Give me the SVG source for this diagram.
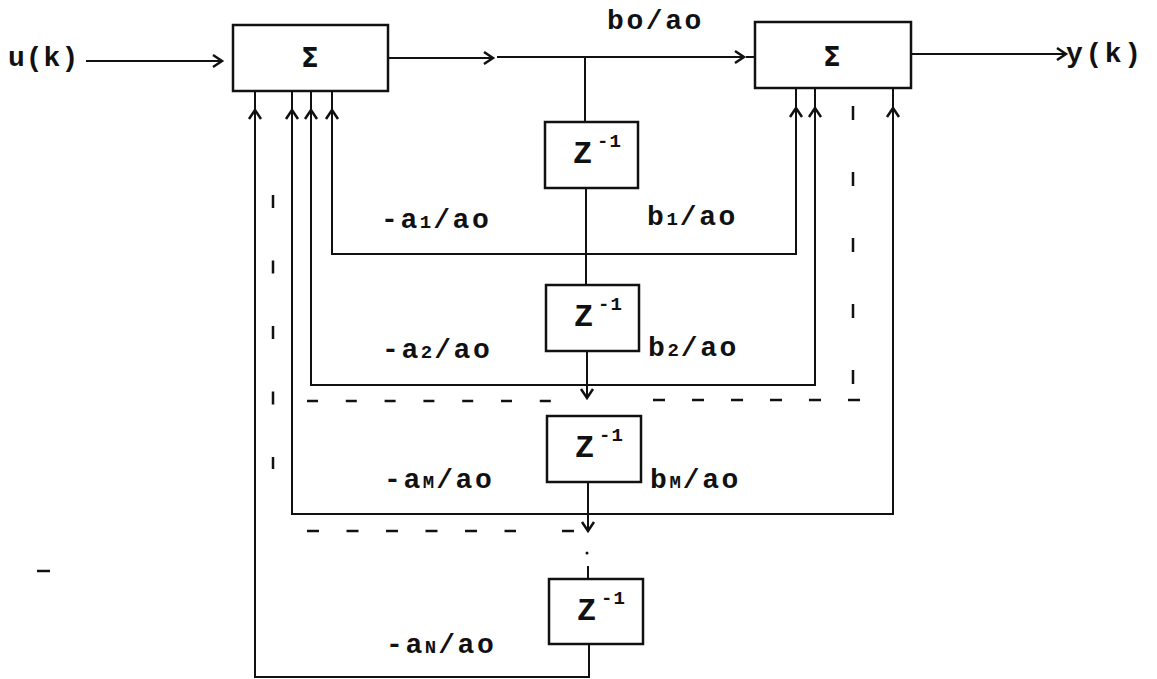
<svg xmlns="http://www.w3.org/2000/svg" width="1157" height="679" viewBox="0 0 1157 679">
<defs>
<style>
.box{fill:none;stroke:#111;stroke-width:2.5}
.ln{fill:none;stroke:#111;stroke-width:2}
.ds{fill:none;stroke:#111;stroke-width:2.5}
.lbl{font-family:"Liberation Mono","DejaVu Sans Mono",monospace;font-weight:bold;font-size:28px;letter-spacing:2.6px;fill:#111}
.sub{font-size:19px;letter-spacing:2px}
.sig{font-family:"DejaVu Sans","Liberation Sans",sans-serif;font-weight:bold;font-size:26px;fill:#111;text-anchor:middle}
.z{font-family:"Liberation Mono","DejaVu Sans Mono",monospace;font-weight:bold;font-size:32px;fill:#111}
.sup{font-family:"Liberation Mono","DejaVu Sans Mono",monospace;font-weight:bold;font-size:19px;letter-spacing:1px;fill:#111}
</style>
<marker id="ah" viewBox="0 0 12 14" refX="10" refY="7" markerWidth="12" markerHeight="14" markerUnits="userSpaceOnUse" orient="auto" overflow="visible">
<path d="M1,1 L10,7 L1,13" fill="none" stroke="#111" stroke-width="2.5"/>
</marker>
</defs>
<rect width="1157" height="679" fill="#fff"/>

<g id="connectors">
<path class="ln" d="M86,61 H222" marker-end="url(#ah)"/>
<path class="ln" d="M388,58 H493" marker-end="url(#ah)"/>
<path class="ln" d="M497,57 H744" marker-end="url(#ah)"/>
<path class="ln" d="M746,57 H755"/>
<path class="ln" d="M911,54 H1066" marker-end="url(#ah)"/>
<path class="ln" d="M585,57 V122"/>
<path class="ln" d="M586,188 V285"/>
<path class="ln" d="M587,351 V398" marker-end="url(#ah)"/>
<path class="ln" d="M588,482 V531" marker-end="url(#ah)"/>
<circle cx="587" cy="553" r="1.5" fill="#111"/>
<path class="ln" d="M588,566 V579"/>
<path class="ln" d="M589,644 V677 H255 V91"/>
<path class="ln" d="M332,91 V254 H796 V88"/>
<path class="ln" d="M311,91 V385 H815 V88"/>
<path class="ln" d="M292,91 V514 H893 V88"/>
<path class="ln" d="M255,122 V110" marker-end="url(#ah)"/>
<path class="ln" d="M292,122 V110" marker-end="url(#ah)"/>
<path class="ln" d="M311,122 V110" marker-end="url(#ah)"/>
<path class="ln" d="M332,122 V110" marker-end="url(#ah)"/>
<path class="ln" d="M796,120 V108" marker-end="url(#ah)"/>
<path class="ln" d="M815,120 V108" marker-end="url(#ah)"/>
<path class="ln" d="M893,120 V108" marker-end="url(#ah)"/>
<path class="ds" d="M307,401 H552" stroke-dasharray="11 27.8"/>
<path class="ds" d="M653,400 H861" stroke-dasharray="12 27"/>
<path class="ds" d="M307,531 H516" stroke-dasharray="12 27.5"/>
<path class="ds" d="M562,531 H574"/>
<path class="ds" d="M273,195 V469" stroke-dasharray="13 52.5"/>
<path class="ds" d="M853,106 V384" stroke-dasharray="14 52"/>
<path class="ds" d="M37,571 H50"/>
</g>

<g id="sum1">
<rect class="box" x="233" y="25" width="155" height="66"/>
<text class="sig" x="310" y="67">Σ</text>
</g>
<g id="sum2">
<rect class="box" x="755" y="22" width="156" height="66"/>
<text class="sig" x="832" y="66">Σ</text>
</g>
<g id="z1">
<rect class="box" x="545" y="122" width="93" height="66"/>
<text class="z" x="573" y="163">Z</text>
<text class="sup" x="597" y="147">-1</text>
</g>
<g id="z2">
<rect class="box" x="546" y="285" width="93" height="66"/>
<text class="z" x="574" y="326">Z</text>
<text class="sup" x="598" y="310">-1</text>
</g>
<g id="z3">
<rect class="box" x="547" y="416" width="94" height="66"/>
<text class="z" x="575" y="457">Z</text>
<text class="sup" x="599" y="441">-1</text>
</g>
<g id="z4">
<rect class="box" x="549" y="579" width="94" height="65"/>
<text class="z" x="577" y="620">Z</text>
<text class="sup" x="601" y="604">-1</text>
</g>

<g id="labels">
<text class="lbl" x="8" y="66" style="letter-spacing:1px">u(k)</text>
<text class="lbl" x="1066" y="62">y(k)</text>
<text class="lbl" x="607" y="29">bo/ao</text>
<text class="lbl" x="381" y="228">-a<tspan class="sub">1</tspan>/ao</text>
<text class="lbl" x="647" y="225">b<tspan class="sub">1</tspan>/ao</text>
<text class="lbl" x="382" y="358">-a<tspan class="sub">2</tspan>/ao</text>
<text class="lbl" x="648" y="356">b<tspan class="sub">2</tspan>/ao</text>
<text class="lbl" x="384" y="488">-a<tspan class="sub">M</tspan>/ao</text>
<text class="lbl" x="650" y="488">b<tspan class="sub">M</tspan>/ao</text>
<text class="lbl" x="386" y="653">-a<tspan class="sub">N</tspan>/ao</text>
</g>
</svg>
